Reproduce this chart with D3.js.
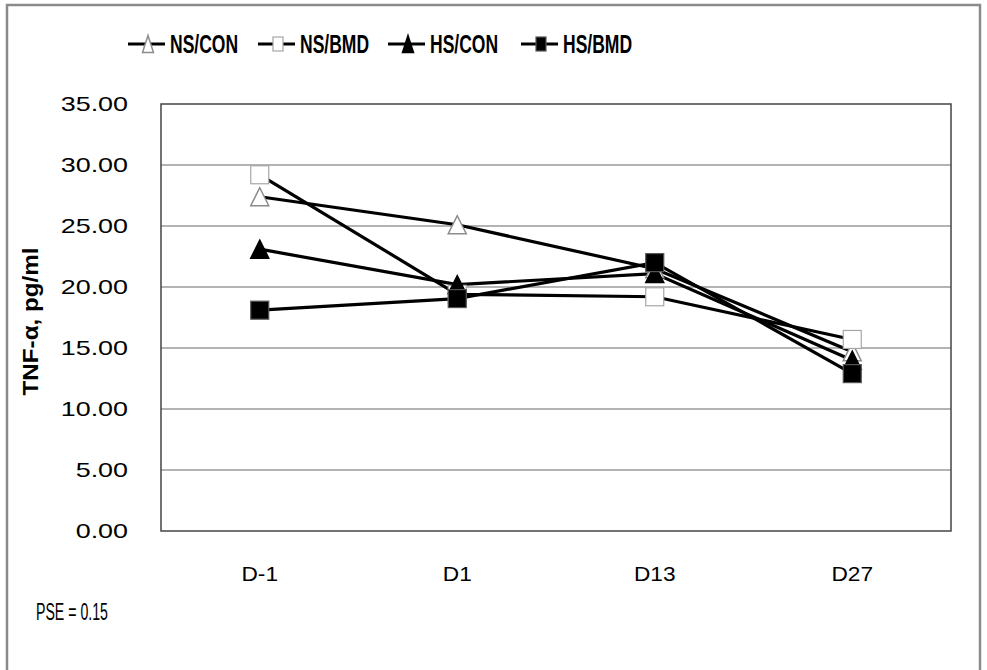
<!DOCTYPE html>
<html>
<head>
<meta charset="utf-8">
<script src="https://cdn.jsdelivr.net/npm/d3@7/dist/d3.min.js"></script>
<style>
  html, body { margin: 0; padding: 0; background: #fff; }
  svg { display: block; font-family: "Liberation Sans", Arial, sans-serif; }
</style>
</head>
<body>
<svg id="chart" width="987" height="670"></svg>
<script>
// Sampling days and TNF-α means (pg/ml) for each group
const days = ["D-1", "D1", "D13", "D27"];
const seriesNames = ["NS/CON", "NS/BMD", "HS/CON", "HS/BMD"];
const nsCon = [27.4, 25.1, 21.5, 14.7];
const nsBmd = [29.2, 19.4, 19.2, 15.7];
const hsCon = [23.1, 20.2, 21.1, 14.0];
const hsBmd = [18.1, 19.05, 22.0, 12.9];
const yTicks = [0, 5, 10, 15, 20, 25, 30, 35];
const yTitle = "TNF-α, pg/ml";
const footnote = "PSE = 0.15";

// marker style per group: shape + filled/open
const markerStyle = [
  { shape: "triangle", fill: "#fff", stroke: "#8c8c8c" },
  { shape: "square", fill: "#fff", stroke: "#a6a6a6" },
  { shape: "triangle", fill: "#000", stroke: "#000" },
  { shape: "square", fill: "#000", stroke: "#555" }
];
const seriesValues = [nsCon, nsBmd, hsCon, hsBmd];
const series = seriesNames.map((name, i) => ({ name, values: seriesValues[i], style: markerStyle[i] }));

const svg = d3.select("#chart");

// stretch/condense a text element horizontally by a factor of its natural width
function widthScale(sel, factor) {
  sel.each(function () {
    const w = this.getComputedTextLength();
    d3.select(this).attr("textLength", w * factor).attr("lengthAdjust", "spacingAndGlyphs");
  });
}

// outer frame
svg.append("rect")
  .attr("x", 7).attr("y", 5).attr("width", 973).attr("height", 700)
  .attr("fill", "none").attr("stroke", "#8a8a8a").attr("stroke-width", 2.5);

const plot = { left: 161, top: 104, right: 951, bottom: 531 };

const x = d3.scaleBand().domain(days).range([plot.left, plot.right]);
const y = d3.scaleLinear().domain([0, 35]).range([plot.bottom, plot.top]);

// horizontal gridlines
svg.append("g").selectAll("line").data(yTicks.filter(t => t > 0 && t < 35)).join("line")
  .attr("x1", plot.left).attr("x2", plot.right)
  .attr("y1", d => y(d)).attr("y2", d => y(d))
  .attr("stroke", "#9a9a9a").attr("stroke-width", 1.5);

// plot border
svg.append("rect")
  .attr("x", plot.left).attr("y", plot.top)
  .attr("width", plot.right - plot.left).attr("height", plot.bottom - plot.top)
  .attr("fill", "none").attr("stroke", "#444").attr("stroke-width", 1.5);

// y axis tick labels
const yAxis = d3.axisLeft(y).tickValues(yTicks).tickFormat(d3.format(".2f")).tickSize(0).tickPadding(33);
const yg = svg.append("g").attr("transform", `translate(${plot.left},0)`).call(yAxis);
yg.select(".domain").remove();
yg.selectAll("text").attr("font-size", 21).attr("fill", "#000")
  .attr("font-family", "Liberation Sans, Arial, sans-serif")
  .call(widthScale, 1.28);

// x axis labels
const xAxis = d3.axisBottom(x).tickSize(0).tickPadding(35);
const xg = svg.append("g").attr("transform", `translate(0,${plot.bottom})`).call(xAxis);
xg.select(".domain").remove();
xg.selectAll("text").attr("font-size", 21).attr("fill", "#000")
  .attr("font-family", "Liberation Sans, Arial, sans-serif")
  .call(widthScale, 1.08);

// y axis title
svg.append("text")
  .attr("transform", `translate(38,${(plot.top + plot.bottom) / 2 + 4}) rotate(-90)`)
  .attr("text-anchor", "middle").attr("font-size", 22).attr("font-weight", "bold")
  .text(yTitle)
  .call(widthScale, 1.1);

// footnote
svg.append("text").attr("x", 36).attr("y", 620).attr("font-size", 23)
  .text(footnote)
  .call(widthScale, 0.615);

const cx = d => x(d) + x.bandwidth() / 2;

function drawMarker(g, px, py, style, w, h) {
  if (style.shape === "square") {
    g.append("rect")
      .attr("x", px - w / 2).attr("y", py - h / 2)
      .attr("width", w).attr("height", h)
      .attr("fill", style.fill).attr("stroke", style.stroke).attr("stroke-width", 1.2);
  } else {
    g.append("path")
      .attr("d", `M${px},${py - h / 2} L${px + w / 2},${py + h / 2} L${px - w / 2},${py + h / 2} Z`)
      .attr("fill", style.fill).attr("stroke", style.stroke).attr("stroke-width", 1.5)
      .attr("stroke-linejoin", "miter");
  }
}

// lines
const line = d3.line().x((d, i) => cx(days[i])).y(d => y(d));
const linesG = svg.append("g");
series.forEach(s => {
  linesG.append("path").datum(s.values)
    .attr("d", line).attr("fill", "none")
    .attr("stroke", "#000").attr("stroke-width", 3.2);
});

// markers
const markG = svg.append("g");
series.forEach(s => {
  s.values.forEach((v, i) => drawMarker(markG, cx(days[i]), y(v), s.style, 18, 18));
});

// legend
const legendX = [148, 278, 408, 541];
const legendY = 44;
const lg = svg.append("g");
series.forEach((s, i) => {
  const mx = legendX[i];
  lg.append("line").attr("x1", mx - 20).attr("x2", mx + 17)
    .attr("y1", legendY).attr("y2", legendY)
    .attr("stroke", "#000").attr("stroke-width", 3.2);
  if (s.style.shape === "square") drawMarker(lg, mx, legendY, s.style, 10, 14);
  else drawMarker(lg, mx, legendY, s.style, 11, 17);
  lg.append("text").attr("x", mx + 22).attr("y", legendY + 9)
    .attr("font-size", 25).attr("font-weight", "bold")
    .text(s.name)
    .call(widthScale, 0.7);
});
</script>
</body>
</html>
